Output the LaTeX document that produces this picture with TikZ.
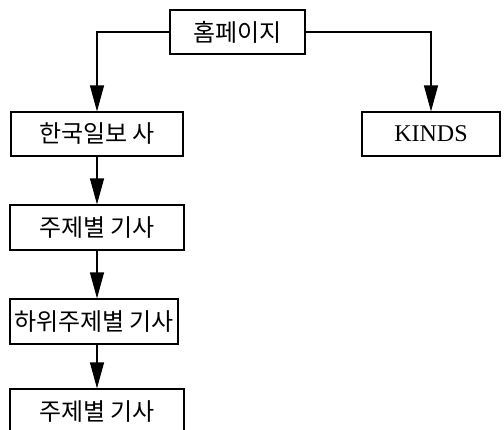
\documentclass[tikz,border=0pt]{standalone}
\usepackage{fontspec}
\setmainfont{Liberation Serif}
\newfontfamily\kr{Noto Sans CJK KR}
\usetikzlibrary{arrows.meta}
\tikzset{
  page/.style={draw, line width=1.2pt, minimum height=44pt, inner sep=0pt,
    font=\kr\fontsize{24}{26}\selectfont},
  link/.style={line width=1.2pt, -{Triangle[length=26pt,width=14pt]}}
}
\begin{document}
\begin{tikzpicture}[x=1pt,y=-1pt]
        \useasboundingbox (0,0) rectangle (504,429);
        \clip (0,0) rectangle (504,429);
        %% Boxes
        \node[page, minimum width=135pt] (home) at (237.5,32) {홈페이지};
        \node[page, minimum width=172pt] (hankook) at (97,134) {한국일보 사};
        \node[page, minimum width=138pt, font=\fontsize{24}{26}\selectfont] (kinds) at (431,134) {KINDS};
        \node[page, minimum width=174pt, minimum height=45pt] (topic) at (97,227.5) {주제별 기사};
        \node[page, minimum width=168pt, minimum height=45pt] (subtopic) at (94,321.5) {하위주제별 기사};
        \node[page, minimum width=174pt, minimum height=45pt] (topicb) at (97,411.5) {주제별 기사};
        %% Links
        \draw[link] (home.west) -| (hankook.north);
        \draw[link] (home.east) -| (kinds.north);
        \draw[link] (hankook.south) -- (topic.north);
        \draw[link] (topic.south) -- (topic.south |- subtopic.north);
        \draw[link] (topic.south |- subtopic.south) -- (topicb.north);
    \end{tikzpicture}
\end{document}
